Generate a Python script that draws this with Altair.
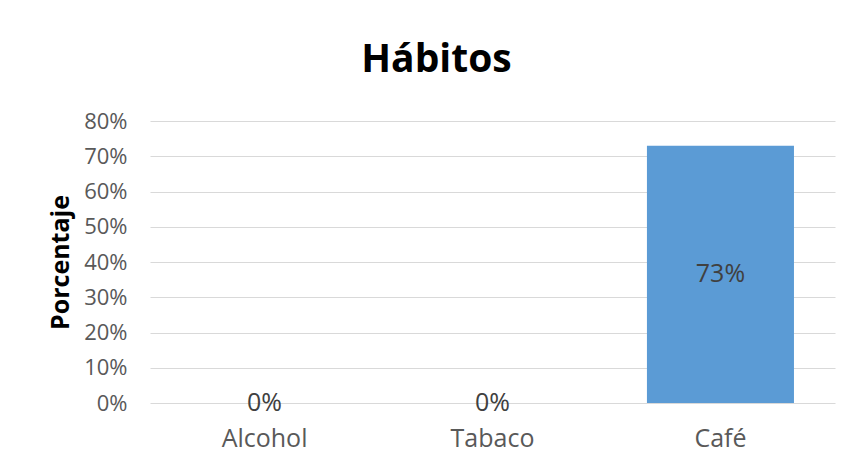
import altair as alt
import pandas as pd

categories = ["Alcohol", "Tabaco", "Café"]
values = [0.0, 0.0, 0.73]
labels = ["0%", "0%", "73%"]
y_ticks = [0.0, 0.1, 0.2, 0.3, 0.4, 0.5, 0.6, 0.7, 0.8]

df = pd.DataFrame({"cat": categories, "val": values, "lab": labels})

FONT = "Open Sans"

x_axis = alt.Axis(
    title=None, labelAngle=0, domain=False, ticks=False,
    labelPadding=23, labelFontSize=25, labelColor="#595959", labelFont=FONT,
    grid=False,
)
y_axis = alt.Axis(
    title="Porcentaje", format=".0%", values=y_ticks,
    labelOverlap=False,
    domain=False, ticks=False, labelPadding=23, labelFontSize=22,
    labelColor="#595959", labelFont=FONT,
    titleFont=FONT, titleFontSize=25, titleFontWeight="bold", titleColor="#000000",
    titlePadding=10, gridColor="#d9d9d9", gridWidth=1,
)
x_scale = alt.Scale(paddingInner=0.355, paddingOuter=0.18)
y_scale = alt.Scale(domain=[0, 0.8])

bars = alt.Chart(df).mark_bar(color="#5b9bd5").encode(
    x=alt.X("cat:N", sort=categories, scale=x_scale, axis=x_axis),
    y=alt.Y("val:Q", scale=y_scale, axis=y_axis),
)

text = alt.Chart(df).transform_calculate(
    val="datum.val / 2"
).mark_text(
    font=FONT, fontSize=25, color="#404040", baseline="middle", align="center"
).encode(
    x=alt.X("cat:N", sort=categories, scale=x_scale, axis=x_axis),
    y=alt.Y("val:Q", scale=y_scale, axis=y_axis),
    text="lab:N",
)

chart = (
    alt.layer(bars, text)
    .properties(
        width=685,
        height=282,
        view=alt.ViewBackground(strokeWidth=0, strokeOpacity=0),
        title=alt.TitleParams(
            "Hábitos", font=FONT, fontSize=39, fontWeight="bold", color="#000000",
            anchor="middle", dx=-56, offset=30,
        ),
        autosize=alt.AutoSizeParams(type="none"),
        padding={"left": 142, "top": 113, "right": 9, "bottom": 58},
    )
    .configure_view(strokeWidth=0, strokeOpacity=0)
    .configure(background="#ffffff")
)

chart.save("out.html", embed_options={"renderer": "svg", "actions": False})
